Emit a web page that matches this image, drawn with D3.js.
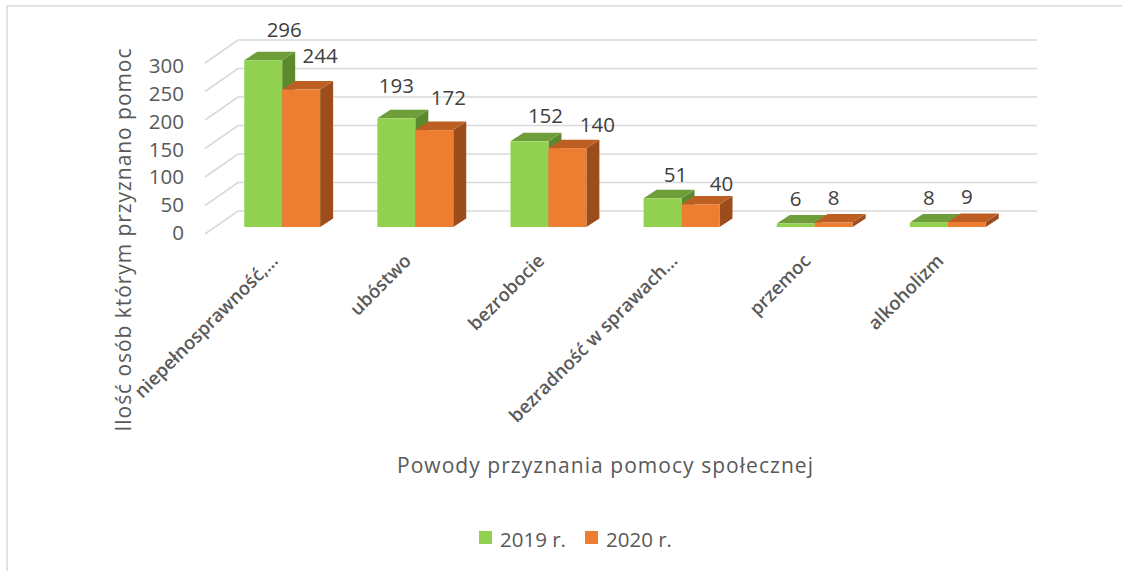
<!DOCTYPE html>
<html>
<head>
<meta charset="utf-8">
<title>Powody przyznania pomocy społecznej</title>
<script src="https://cdn.jsdelivr.net/npm/d3@7/dist/d3.min.js"></script>
<style>
  body { margin: 0; background: #fff; }
  text { font-family: "Open Sans", "Noto Sans", sans-serif; }
</style>
</head>
<body>
<svg id="chart" width="1122" height="571"></svg>
<script>
// data
const categories = ["niepełnosprawność,...", "ubóstwo", "bezrobocie", "bezradność w sprawach...", "przemoc", "alkoholizm"];
const seriesNames = ["2019 r.", "2020 r."];
const values2019 = [296, 193, 152, 51, 6, 8];
const values2020 = [244, 172, 140, 40, 8, 9];
const yTicks = [0, 50, 100, 150, 200, 250, 300];
const yTitle = "Ilość osób którym przyznano pomoc";
const xTitle = "Powody przyznania pomocy społecznej";

// layout
const colors = {
  "2019 r.": {front: "#92d050", top: "#6e9e39", side: "#5b8a2c"},
  "2020 r.": {front: "#ed7d31", top: "#bd5f23", side: "#9c4d1b"}
};
const depth = {dx: 13, dy: -8.5};       // bar depth
const wall = {dx: 33, dy: -23};          // floor depth for gridlines
// hand nudges of the data labels (Excel moved them around)
const labelNudgeX = {"2019 r.": [21, 0, 16, 13, 0, 0], "2020 r.": [19, 14, 30, 21, 0, 0]};
const labelLift = {"2019 r.": [23, 25, 18, 16, 18, 17], "2020 r.": [27, 25, 16, 13, 17, 18]};

const svg = d3.select("#chart");

// outer frame
svg.append("rect")
  .attr("x", 7).attr("y", 6)
  .attr("width", 1130).attr("height", 580)
  .attr("fill", "none")
  .attr("stroke", "#d9d9d9")
  .attr("stroke-width", 1.5);

// scales
const yFront = d3.scaleLinear().domain([0, 300]).range([227, 58]);
const yBack = d3.scaleLinear().domain([0, 300]).range([211, 40]);
const yLabel = d3.scaleLinear().domain([0, 300]).range([233, 66]);
const x0 = d3.scaleBand().domain(categories).range([187, 1043]).padding(0.43);
const x1 = d3.scaleBand().domain(seriesNames).range([0, x0.bandwidth()]);
const backLeft = 238, backRight = 1037;

// gridlines (back wall + side wall)
const grid = svg.append("g").attr("id", "grid")
  .attr("stroke", "#d9d9d9").attr("stroke-width", 1.6).attr("fill", "none");
yTicks.forEach(t => {
  grid.append("path")
    .attr("d", `M${backLeft - wall.dx},${yBack(t) - wall.dy} L${backLeft},${yBack(t)} L${backRight},${yBack(t)}`);
});

// y tick labels
const yAxis = d3.axisLeft(yLabel).tickValues(yTicks).tickSize(0).tickPadding(0);
const yAxisGroup = svg.append("g")
  .attr("transform", "translate(184,0)")
  .call(yAxis);
yAxisGroup.select(".domain").remove();
yAxisGroup.selectAll("text")
  .attr("font-family", "Open Sans")
  .attr("font-size", 20.5)
  .attr("fill", "#595959");

// rows for bars
const rows = [];
categories.forEach((c, i) => {
  rows.push({cat: c, i: i, s: "2019 r.", v: values2019[i]});
  rows.push({cat: c, i: i, s: "2020 r.", v: values2020[i]});
});

const bars = svg.append("g").attr("id", "bars")
  .selectAll("g").data(rows).enter().append("g");

bars.each(function(d) {
  const g = d3.select(this);
  const xl = x0(d.cat) + x1(d.s);
  const xr = xl + x1.bandwidth();
  const yt = yFront(d.v);
  const yb = yFront(0);
  const c = colors[d.s];
  // side
  g.append("path")
    .attr("d", `M${xr},${yt} L${xr + depth.dx},${yt + depth.dy} L${xr + depth.dx},${yb + depth.dy} L${xr},${yb} Z`)
    .attr("fill", c.side);
  // top
  g.append("path")
    .attr("d", `M${xl},${yt} L${xl + depth.dx},${yt + depth.dy} L${xr + depth.dx},${yt + depth.dy} L${xr},${yt} Z`)
    .attr("fill", c.top);
  // front
  g.append("rect")
    .attr("x", xl).attr("y", yt)
    .attr("width", x1.bandwidth()).attr("height", yb - yt)
    .attr("fill", c.front);
});

// data labels
svg.append("g").attr("id", "values")
  .selectAll("text").data(rows).enter().append("text")
  .attr("x", d => x0(d.cat) + x1(d.s) + x1.bandwidth() / 2 + labelNudgeX[d.s][d.i])
  .attr("y", d => yFront(d.v) - labelLift[d.s][d.i])
  .attr("text-anchor", "middle")
  .attr("font-size", 20.5)
  .attr("fill", "#404040")
  .text(d => d.v);

// category labels
svg.append("g").attr("id", "categories")
  .selectAll("text").data(categories).enter().append("text")
  .attr("transform", d => `translate(${x0(d) + x0.bandwidth() / 2 - 3},${262}) rotate(-45)`)
  .attr("text-anchor", "end")
  .attr("font-size", 18.5)
  .attr("font-weight", 600)
  .attr("fill", "#595959")
  .text(d => d);

// axis titles
svg.append("text")
  .attr("transform", "translate(131,240) rotate(-90)")
  .attr("text-anchor", "middle")
  .attr("font-size", 21)
  .attr("fill", "#595959")
  .attr("textLength", 383)
  .attr("lengthAdjust", "spacing")
  .text(yTitle);

svg.append("text")
  .attr("x", 605).attr("y", 473)
  .attr("text-anchor", "middle")
  .attr("font-size", 21)
  .attr("fill", "#595959")
  .attr("textLength", 416)
  .attr("lengthAdjust", "spacing")
  .text(xTitle);

// legend
const legend = svg.append("g").attr("id", "legend")
  .selectAll("g").data(seriesNames).enter().append("g")
  .attr("transform", (d, i) => `translate(${479 + i * 106},531)`);
legend.append("rect")
  .attr("width", 13).attr("height", 13)
  .attr("fill", d => colors[d].front);
legend.append("text")
  .attr("x", 21).attr("y", 16)
  .attr("font-size", 20.5)
  .attr("fill", "#595959")
  .text(d => d);
</script>
</body>
</html>
